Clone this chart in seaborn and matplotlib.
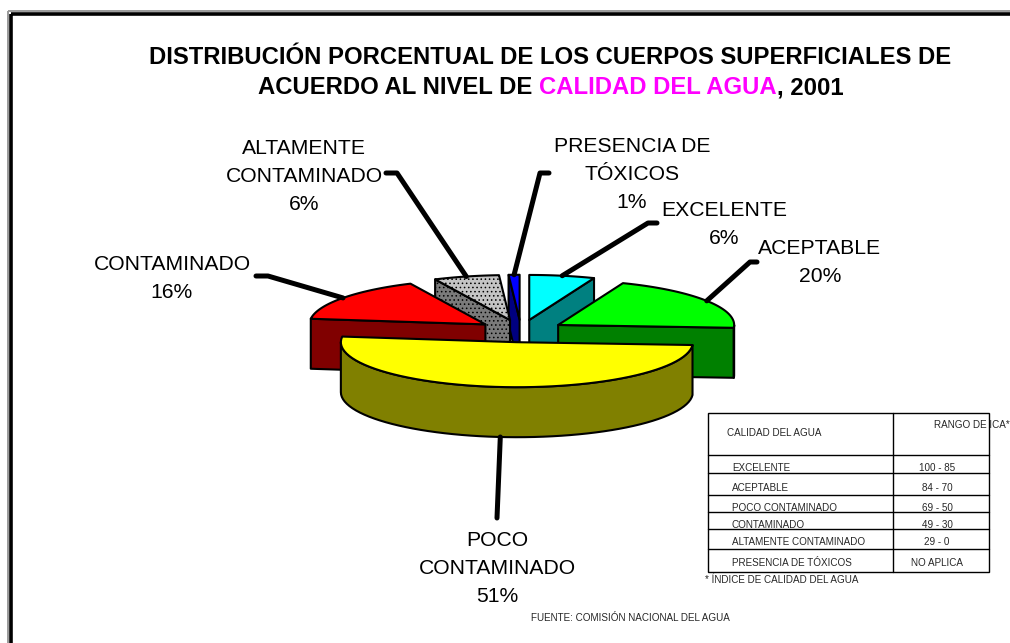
import numpy as np
import seaborn as sns
import matplotlib
matplotlib.use("Agg")
import matplotlib.pyplot as plt
from matplotlib.patches import Polygon, Rectangle

# datos del grafico
categorias = ["EXCELENTE", "ACEPTABLE", "POCO\nCONTAMINADO", "CONTAMINADO",
              "ALTAMENTE\nCONTAMINADO", "PRESENCIA DE\nTÓXICOS"]
porcentajes = [6, 20, 51, 16, 6, 1]
colores_tapa = ["#00ffff", "#00ff00", "#ffff00", "#ff0000", "#c4c4c4", "#0000ff"]
colores_lado = ["#008080", "#008000", "#808000", "#800000", "#7a7a7a", "#000080"]

# tabla de rangos
tabla_calidad = ["EXCELENTE", "ACEPTABLE", "POCO CONTAMINADO", "CONTAMINADO",
                 "ALTAMENTE CONTAMINADO", "PRESENCIA DE TÓXICOS"]
tabla_rango = ["100 - 85", "84 - 70", "69 - 50", "49 - 30", "29 - 0", "NO APLICA"]

sns.set_theme(style="white")
plt.rcParams["font.family"] = ["Liberation Sans", "DejaVu Sans"]
plt.rcParams["hatch.linewidth"] = 0.6

fig = plt.figure(figsize=(10.1, 6.43), dpi=100)
ax = fig.add_axes([0, 0, 1, 1])
ax.set_xlim(0, 1010)
ax.set_ylim(643, 0)
ax.axis("off")

# geometria del pastel 3d (en pixeles)
CX, CY = 521, 331
RX, RY = 176, 45
ALTO = 50
EXPLOTA = 0.25


def punto(c, t, dy=0):
    r = np.radians(t)
    return (c[0] + RX * np.cos(r), c[1] - RY * np.sin(r) + dy)


def arco(c, a, b, dy=0, n=60):
    return [punto(c, t, dy) for t in np.linspace(a, b, n)]


# angulos de cada rebanada, en sentido horario desde arriba
inicio = 90.0
rebanadas = []
for i, p in enumerate(porcentajes):
    t1 = inicio
    t2 = inicio - 360 * p / 100
    medio = (t1 + t2) / 2
    vertice = (CX + EXPLOTA * RX * np.cos(np.radians(medio)),
               CY - EXPLOTA * RY * np.sin(np.radians(medio)))
    rebanadas.append(dict(i=i, t1=t1, t2=t2, medio=medio, c=vertice))
    inicio = t2

orden = sorted(rebanadas, key=lambda r: -np.sin(np.radians(r["medio"])))

for r in orden:
    i, c, t1, t2 = r["i"], r["c"], r["t1"], r["t2"]
    kw = dict(edgecolor="black", lw=1.5, joinstyle="round")
    extra = dict(hatch="....") if i == 4 else {}
    # paredes radiales que miran al frente
    for t, normal in [(t1, t1 + 90), (t2, t2 - 90)]:
        if np.sin(np.radians(normal)) < -0.01:
            p = punto(c, t)
            pared = [c, p, (p[0], p[1] + ALTO), (c[0], c[1] + ALTO)]
            ax.add_patch(Polygon(pared, facecolor=colores_lado[i], **kw, **extra))
    # pared exterior (mitad frontal)
    for lo, hi in [(-180, 0), (180, 360), (-540, -360)]:
        a, b = max(t2, lo), min(t1, hi)
        if b - a > 0.1:
            arriba = arco(c, a, b)
            abajo = arco(c, b, a, ALTO)
            ax.add_patch(Polygon(arriba + abajo, facecolor=colores_lado[i], **kw, **extra))
    # tapa
    tapa = [c] + arco(c, t1, t2)
    ax.add_patch(Polygon(tapa, facecolor=colores_tapa[i], **kw, **extra))

# etiquetas con lineas guia
etiquetas = {
    0: dict(xy=(724, 225), guia=[(648, 223), (657, 223)]),
    1: dict(xy=(820, 263), guia=[(750, 262), (757, 262)]),
    2: dict(xy=(497, 569), guia=[(497, 518)]),
    3: dict(xy=(172, 279), guia=[(268, 276), (256, 276)]),
    4: dict(xy=(304, 176), guia=[(397, 173), (386, 173)]),
    5: dict(xy=(632, 174), guia=[(540, 173), (549, 173)]),
}
for r in rebanadas:
    i = r["i"]
    e = etiquetas[i]
    if i == 2:
        ini = punto(r["c"], r["medio"], ALTO)
    else:
        ini = punto(r["c"], r["medio"])
    pts = [ini] + e["guia"]
    ax.plot([p[0] for p in pts], [p[1] for p in pts], color="black", lw=3.6,
            solid_capstyle="round", solid_joinstyle="round", zorder=5)
    ax.text(e["xy"][0], e["xy"][1], f"{categorias[i]}\n{porcentajes[i]}%",
            ha="center", va="center", fontsize=15.2, linespacing=1.6, color="black")

# titulo en dos lineas, con parte en magenta
ax.text(550, 58, "DISTRIBUCIÓN PORCENTUAL DE LOS CUERPOS SUPERFICIALES DE",
        ha="center", va="center", fontsize=17.2, fontweight="bold", color="black")
piezas = [("ACUERDO AL NIVEL DE ", "black"), ("CALIDAD DEL AGUA", "#ff00ff"), (", 2001", "black")]
textos = [ax.text(0, 88, s, ha="left", va="center", fontsize=17.2, fontweight="bold", color=col)
          for s, col in piezas]
fig.canvas.draw()
rend = fig.canvas.get_renderer()
anchos = [t.get_window_extent(rend).width for t in textos]
x = 551 - sum(anchos) / 2
for t, w in zip(textos, anchos):
    t.set_x(x)
    x += w

# marco exterior
ax.add_patch(Rectangle((8, 11), 1100, 700, fill=False, edgecolor="#9a9a9a", lw=1.4))
ax.add_patch(Rectangle((11, 14), 1100, 700, fill=False, edgecolor="black", lw=2.6))

# tabla
x0, x1, xd = 708, 989, 893
filas = [413, 455, 473, 495, 512, 529, 549, 572]
ax.add_patch(Rectangle((x0, filas[0]), x1 - x0, filas[-1] - filas[0], fill=False,
                       edgecolor="black", lw=1.0))
for yf in filas[1:-1]:
    ax.plot([x0, x1], [yf, yf], color="black", lw=1.0)
ax.plot([xd, xd], [filas[0], filas[-1]], color="black", lw=1.0)
ax.text(727, 433, "CALIDAD DEL AGUA", ha="left", va="center", fontsize=7.1)
ax.text(934, 425, "RANGO DE ICA*", ha="left", va="center", fontsize=7.1)
y_txt = [468, 488, 508, 525, 542, 563]
for nom, rng, yt in zip(tabla_calidad, tabla_rango, y_txt):
    ax.text(732, yt, nom, ha="left", va="center", fontsize=7.1)
    ax.text(937, yt, rng, ha="center", va="center", fontsize=7.1)
ax.text(705, 580, "* ÍNDICE DE CALIDAD DEL AGUA", ha="left", va="center", fontsize=7.1)

ax.text(630, 618, "FUENTE: COMISIÓN NACIONAL DEL AGUA", ha="center", va="center", fontsize=7.1)

fig.savefig("out.png", dpi=100)
